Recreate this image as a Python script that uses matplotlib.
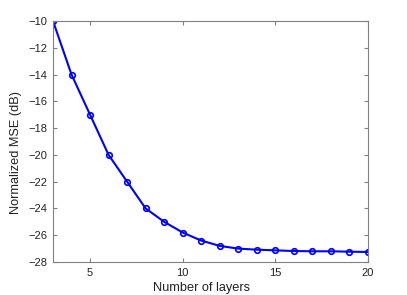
import matplotlib
matplotlib.use("Agg")
import matplotlib.pyplot as plt

layers = [3, 4, 5, 6, 7, 8, 9, 10, 11, 12, 13, 14, 15, 16, 17, 18, 19, 20]
mse_db = [-10, -14, -17, -20, -22, -24, -25, -25.8, -26.4, -26.8, -27.0, -27.08,
          -27.13, -27.18, -27.2, -27.2, -27.23, -27.25]
xticks = [5, 10, 15, 20]
yticks = [-28, -26, -24, -22, -20, -18, -16, -14, -12, -10]

plt.rcParams['font.family'] = ['Liberation Sans', 'DejaVu Sans']
fig = plt.figure(figsize=(4.07, 2.95), dpi=100)
ax = fig.add_axes([53/407, 1 - 262/295, (368 - 53)/407, (262 - 21)/295])
ax.plot(layers, mse_db, color='#0000ff', lw=1.5, marker='o', markersize=4,
        markerfacecolor='none', markeredgewidth=1.2, markeredgecolor='#0000ff')
ax.set_xlim(3, 20)
ax.set_ylim(-28, -10)
ax.set_xticks(xticks)
ax.set_yticks(yticks)
gray = '#808080'
for s in ax.spines.values():
    s.set_color(gray)
    s.set_linewidth(0.8)
ax.tick_params(direction='in', length=3, width=0.8, color=gray, labelsize=8,
               top=True, right=True, labelcolor='#222222', pad=4)
ax.set_xlabel('Number of layers', fontsize=9.2, color='#222222')
ax.set_ylabel('Normalized MSE (dB)', fontsize=9.2, color='#222222')
ax.xaxis.set_label_coords(0.47, -0.083)
ax.yaxis.set_label_coords(-0.098, 0.454)
fig.savefig('out.png', dpi=100)
